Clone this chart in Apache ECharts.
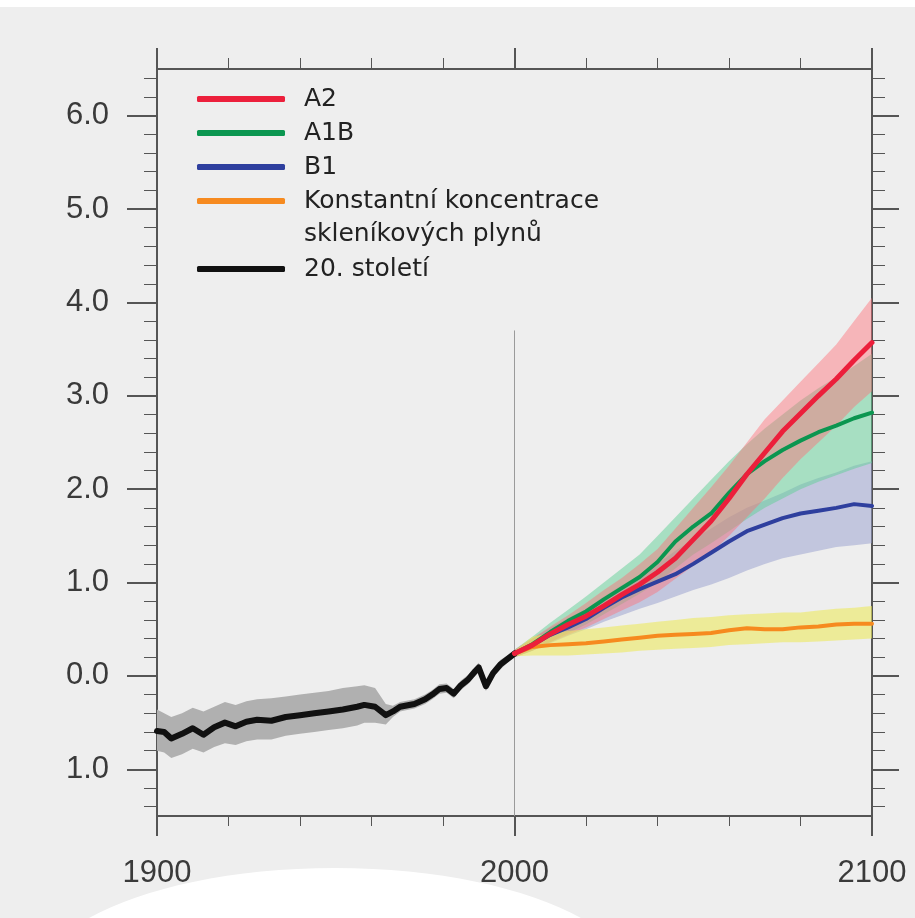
<!DOCTYPE html>
<html>
<head>
<meta charset="utf-8">
<script src="https://cdn.jsdelivr.net/npm/echarts@6/dist/echarts.min.js"></script>
<style>
  html, body { margin: 0; padding: 0; background: #eeeeee; }
  #chart { width: 915px; height: 918px; }
</style>
</head>
<body>
<div id="chart"></div>
<script>
// ---------- data ----------
const histYears = [1900,1902,1904,1907,1910,1913,1916,1919,1922,1925,1928,1932,1936,1940,1944,1948,1952,1956,1958,1961,1964,1966,1968,1972,1975,1977,1979,1981,1983,1985,1987,1989,1990,1992,1994,1996,1998,2000];
const histMean  = [-0.59,-0.60,-0.67,-0.62,-0.56,-0.63,-0.55,-0.50,-0.54,-0.49,-0.47,-0.48,-0.44,-0.42,-0.40,-0.38,-0.36,-0.33,-0.31,-0.33,-0.42,-0.38,-0.33,-0.30,-0.25,-0.20,-0.14,-0.13,-0.19,-0.10,-0.04,0.05,0.09,-0.11,0.03,0.12,0.18,0.24];
const histUpper = [-0.36,-0.40,-0.44,-0.40,-0.34,-0.38,-0.33,-0.28,-0.31,-0.27,-0.25,-0.24,-0.22,-0.20,-0.18,-0.16,-0.13,-0.11,-0.10,-0.13,-0.30,-0.32,-0.28,-0.25,-0.20,-0.15,-0.09,-0.08,-0.14,-0.05,0.01,0.10,0.14,-0.06,0.08,0.17,0.22,0.28];
const histLower = [-0.80,-0.82,-0.88,-0.84,-0.78,-0.82,-0.76,-0.72,-0.74,-0.70,-0.68,-0.68,-0.64,-0.62,-0.60,-0.58,-0.56,-0.53,-0.50,-0.50,-0.52,-0.44,-0.38,-0.35,-0.30,-0.25,-0.19,-0.18,-0.24,-0.15,-0.09,0.00,0.04,-0.16,-0.02,0.07,0.14,0.20];

const futureYears = [2000,2005,2010,2015,2020,2025,2030,2035,2040,2045,2050,2055,2060,2065,2070,2075,2080,2085,2090,2095,2100];
const a2Mean   = [0.24,0.33,0.45,0.55,0.64,0.75,0.87,0.98,1.11,1.26,1.46,1.66,1.90,2.16,2.39,2.62,2.81,3.00,3.18,3.38,3.57];
const a2Upper  = [0.28,0.40,0.53,0.65,0.78,0.92,1.05,1.20,1.36,1.58,1.80,2.02,2.25,2.50,2.75,2.95,3.15,3.35,3.55,3.80,4.05];
const a2Lower  = [0.20,0.27,0.36,0.44,0.52,0.61,0.70,0.79,0.90,1.04,1.18,1.32,1.50,1.70,1.90,2.12,2.32,2.50,2.68,2.88,3.05];
const a1bMean  = [0.24,0.34,0.47,0.59,0.69,0.82,0.94,1.06,1.22,1.44,1.60,1.74,1.96,2.16,2.30,2.42,2.52,2.61,2.68,2.76,2.82];
const a1bUpper = [0.28,0.42,0.57,0.71,0.85,1.00,1.15,1.30,1.50,1.70,1.90,2.10,2.30,2.48,2.65,2.80,2.95,3.08,3.20,3.32,3.45];
const a1bLower = [0.20,0.27,0.36,0.46,0.55,0.66,0.77,0.88,1.00,1.15,1.30,1.42,1.55,1.68,1.80,1.90,2.00,2.08,2.15,2.22,2.28];
const b1Mean   = [0.24,0.33,0.44,0.52,0.61,0.73,0.84,0.93,1.01,1.09,1.20,1.32,1.44,1.55,1.62,1.69,1.74,1.77,1.80,1.84,1.82];
const b1Upper  = [0.28,0.40,0.52,0.62,0.72,0.85,0.97,1.08,1.20,1.34,1.46,1.58,1.70,1.80,1.88,1.96,2.05,2.12,2.18,2.25,2.30];
const b1Lower  = [0.20,0.27,0.35,0.43,0.50,0.58,0.65,0.72,0.78,0.85,0.92,0.98,1.05,1.13,1.20,1.26,1.30,1.34,1.38,1.40,1.42];
const constMean  = [0.24,0.31,0.33,0.34,0.35,0.37,0.39,0.41,0.43,0.44,0.45,0.46,0.49,0.51,0.50,0.50,0.52,0.53,0.55,0.56,0.56];
const constUpper = [0.27,0.42,0.46,0.48,0.50,0.52,0.54,0.56,0.58,0.60,0.62,0.63,0.65,0.66,0.67,0.68,0.68,0.70,0.72,0.73,0.75];
const constLower = [0.21,0.22,0.22,0.22,0.23,0.24,0.25,0.27,0.28,0.29,0.30,0.31,0.33,0.34,0.35,0.36,0.36,0.37,0.38,0.39,0.40];

const yMajorValues = [-1,0,1,2,3,4,5,6];
const xMajorLabels = [1900,2000,2100];
const dividerYear = 2000;
const dividerTop = 3.7;

const seriesNames = ['A2','A1B','B1','Konstantní koncentrace skleníkových plynů','20. století'];
const constFirstLine = 'Konstantní koncentrace';
const constSecondLine = 'skleníkových plynů';

// ---------- helpers ----------
const pair = (xs, ys) => xs.map((x, i) => [x, ys[i]]);

const yMinor = [];
for (let k = -7; k <= 32; k++) { const v = +(k * 0.2).toFixed(1); if (!Number.isInteger(v)) yMinor.push(v); }

function band(id, xs, lo, up, color, z) {
  return {
    type: 'custom', name: id + ' range', silent: true, z: z,
    data: pair(xs, up), encode: { x: 0, y: 1 },
    renderItem: function (params, api) {
      if (params.dataIndex !== 0) return null;
      const top = xs.map((x, i) => api.coord([x, up[i]]));
      const bottom = xs.map((x, i) => api.coord([x, lo[i]])).reverse();
      return { type: 'polygon', shape: { points: top.concat(bottom) }, style: { fill: color } };
    }
  };
}
function line(name, xs, ys, color, width, z) {
  return { type: 'line', name: name, data: pair(xs, ys), symbol: 'none', color: color,
    itemStyle: { color: color }, lineStyle: { color: color, width: width, cap: 'round', join: 'round' }, z: z, silent: true };
}

const axisColor = '#555555';
const labelFont = { fontFamily: 'Liberation Sans, Arial, sans-serif', fontSize: 31, color: '#3a3a3a' };

const histLine = line(seriesNames[4], histYears, histMean, '#111111', 6, 5);
histLine.markLine = {
  symbol: 'none', silent: true, label: { show: false },
  lineStyle: { color: '#9a9a9a', width: 1, type: 'solid' },
  data: [[{ coord: [dividerYear, dividerTop] }, { coord: [dividerYear, -1.5] }]]
};

const series = [
  band('hist', histYears, histLower, histUpper, '#b0b0b0', 1),
  band('b1', futureYears, b1Lower, b1Upper, 'rgba(150,158,205,0.5)', 1),
  band('a1b', futureYears, a1bLower, a1bUpper, 'rgba(95,208,150,0.5)', 1),
  band('a2', futureYears, a2Lower, a2Upper, 'rgba(255,110,120,0.45)', 1),
  band('const', futureYears, constLower, constUpper, 'rgba(236,234,95,0.6)', 1),
  histLine,
  line(seriesNames[3], futureYears, constMean, '#f68a1f', 4, 6),
  line(seriesNames[2], futureYears, b1Mean, '#2e3f9e', 4, 7),
  line(seriesNames[1], futureYears, a1bMean, '#0b9650', 4, 8),
  line(seriesNames[0], futureYears, a2Mean, '#ec1f3b', 5, 9)
];

const legendText = { fontFamily: 'DejaVu Sans, Verdana, sans-serif', fontSize: 25, color: '#222222', lineHeight: 26, padding: [0, 0, 0, 14] };

const option = {
  backgroundColor: '#eeeeee',
  animation: false,
  grid: { left: 157, right: 43, top: 69, bottom: 102 },
  xAxis: [
    { type: 'value', min: 1900, max: 2100, interval: 100, position: 'bottom',
      axisLine: { show: true, onZero: false, lineStyle: { color: axisColor, width: 2 } },
      axisTick: { show: true, length: 20, lineStyle: { color: axisColor, width: 2 } },
      minorTick: { show: true, splitNumber: 5, length: 10, lineStyle: { color: axisColor, width: 1 } },
      axisLabel: Object.assign({ margin: 42, formatter: v => xMajorLabels.includes(v) ? String(v) : '' }, labelFont),
      splitLine: { show: false } },
    { type: 'value', min: 1900, max: 2100, interval: 100, position: 'top',
      axisLine: { show: true, onZero: false, lineStyle: { color: axisColor, width: 2 } },
      axisTick: { show: true, length: 21, lineStyle: { color: axisColor, width: 2 } },
      minorTick: { show: true, splitNumber: 5, length: 11, lineStyle: { color: axisColor, width: 1 } },
      axisLabel: { show: false }, splitLine: { show: false } }
  ],
  yAxis: [
    { type: 'value', min: -1.5, max: 6.5, position: 'left',
      axisLine: { show: true, onZero: false, lineStyle: { color: axisColor, width: 2 } },
      axisTick: { show: true, length: 30, customValues: yMajorValues, lineStyle: { color: axisColor, width: 2 } },
      axisLabel: Object.assign({ margin: 48, customValues: yMajorValues, formatter: v => Math.abs(v).toFixed(1) }, labelFont),
      splitLine: { show: false } },
    { type: 'value', min: -1.5, max: 6.5, position: 'left',
      axisLine: { show: false },
      axisTick: { show: true, length: 13, customValues: yMinor, lineStyle: { color: axisColor, width: 1 } },
      axisLabel: { show: false }, splitLine: { show: false } },
    { type: 'value', min: -1.5, max: 6.5, position: 'right',
      axisLine: { show: true, onZero: false, lineStyle: { color: axisColor, width: 2 } },
      axisTick: { show: true, length: 27, customValues: yMajorValues, lineStyle: { color: axisColor, width: 2 } },
      axisLabel: { show: false }, splitLine: { show: false } },
    { type: 'value', min: -1.5, max: 6.5, position: 'right',
      axisLine: { show: false },
      axisTick: { show: true, length: 13, customValues: yMinor, lineStyle: { color: axisColor, width: 1 } },
      axisLabel: { show: false }, splitLine: { show: false } }
  ],
  legend: [
    { orient: 'vertical', left: 197, top: 86, padding: 0, itemGap: 8, itemWidth: 88, itemHeight: 6,
      icon: 'roundRect', selectedMode: false, itemStyle: { borderWidth: 0 },
      data: seriesNames.slice(0, 4),
      formatter: n => n === seriesNames[3] ? constFirstLine : n,
      textStyle: legendText },
    { orient: 'vertical', left: 197, top: 256, padding: 0, itemGap: 8, itemWidth: 88, itemHeight: 6,
      icon: 'roundRect', selectedMode: false, itemStyle: { borderWidth: 0 },
      data: [seriesNames[4]],
      textStyle: legendText }
  ],
  graphic: [
    { type: 'ellipse', shape: { cx: 335, cy: 985, rx: 300, ry: 117 }, style: { fill: '#ffffff' }, z: -10, silent: true },
    { type: 'rect', shape: { x: 0, y: 0, width: 915, height: 7 }, style: { fill: '#ffffff' }, z: -10, silent: true },
    { type: 'text', left: 304, top: 222, silent: true,
      style: { text: constSecondLine, font: '25px "DejaVu Sans", Verdana, sans-serif', fill: '#222222' } }
  ],
  series: series
};

const chart = echarts.init(document.getElementById('chart'), null, { renderer: 'canvas' });
chart.setOption(option);
</script>
</body>
</html>
